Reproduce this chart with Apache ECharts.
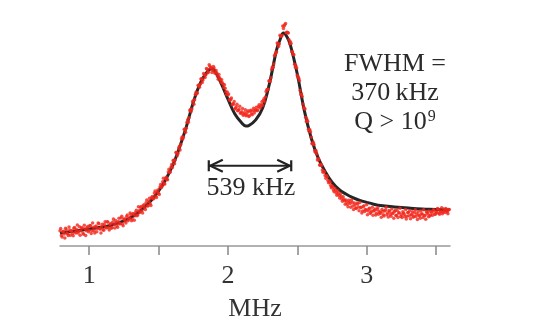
<!DOCTYPE html>
<html>
<head>
<meta charset="utf-8">
<script src="https://cdn.jsdelivr.net/npm/echarts@6.0.0/dist/echarts.min.js"></script>
<style>
  html, body { margin: 0; padding: 0; background: #fff; }
  #main { width: 545px; height: 327px; }
</style>
</head>
<body>
<div id="main"></div>
<script>
// measured trace: sweep starts at 0.79 MHz, one reading every 10 kHz
var sweepStart = 0.79;
var sweepStep = 0.01;
var sweepY = [
  .067,.046,.063,.053,.078,.058,.047,.071,.065,.055,.078,.062,.073,.057,.085,.068,.080,.052,.076,.067,.086,
  .070,.090,.067,.083,.057,.088,.078,.099,.075,.085,.072,.095,.083,.107,.081,.095,.079,.106,.095,.113,
  .090,.108,.099,.124,.097,.120,.111,.131,.112,.125,.138,.120,.141,.134,.158,.137,.156,.170,.156,.178,
  .169,.191,.177,.198,.187,.213,.210,.234,.220,.239,.233,.261,.259,.284,.274,.298,.295,.327,.326,.350,
  .347,.379,.381,.414,.409,.440,.449,.482,.482,.515,.521,.559,.567,.604,.606,.643,.647,.680,.677,.709,
  .716,.740,.734,.758,.757,.782,.770,.795,.790,.778,.788,.765,.766,.738,.745,.725,.722,.701,.698,.670,
  .668,.647,.649,.625,.627,.606,.616,.598,.605,.587,.594,.578,.590,.576,.592,.573,.596,.585,.598,.588,.603,.599,.617,.612,.625,
  .623,.651,.659,.691,.694,.731,.744,.791,.805,.847,.859,.895,.894,.928,.931,.962,.979,.944,.945,.913,
  .904,.859,.849,.804,.796,.755,.742,.688,.673,.628,.611,.570,.559,.517,.514,.481,.451,.449,.415,.407,
  .387,.358,.362,.336,.331,.312,.311,.290,.288,.268,.266,.248,.256,.235,.244,.225,.231,.208,.218,.200,
  .204,.185,.202,.188,.203,.177,.190,.168,.190,.173,.193,.171,.155,.178,.162,.182,.155,.167,.148,.172,
  .155,.164,.145,.169,.154,.145,.162,.138,.155,.171,.146,.157,.139,.164,.146,.153,.135,.157,.146,.167,
  .138,.152,.141,.161,.132,.148,.156,.137,.151,.132,.160,.142,.151,.133,.155,.142,.160,.136,.152,.143,
  .155,.137,.149,.160,.142,.152,.166,.145,.155,.169,.149,.158,.166,.150,.161
];
// second pass of the sweep, shifted by 5 kHz
var sweep2Start = 0.795;
var sweepY2 = [
  .077,.040,.065,.035,.072,.053,.084,.048,.067,.045,.082,.057,.093,.065,.048,.081,.058,.092,.047,.081,.063,
  .091,.055,.102,.069,.085,.063,.102,.076,.058,.096,.070,.107,.080,.106,.071,.100,.082,.119,.080,.103,
  .083,.123,.098,.132,.090,.119,.102,.137,.118,.146,.112,.144,.114,.149,.134,.174,.148,.175,.146,.182,
  .161,.203,.178,.211,.179,.219,.209,.243,.215,.248,.228,.272,.263,.300,.274,.304,.293,.340,.327,.361,
  .378,.364,.414,.399,.434,.425,.475,.475,.517,.503,.548,.548,.600,.595,.638,.627,.670,.674,.711,.702,
  .739,.723,.763,.746,.785,.767,.802,.787,.768,.794,.765,.777,.752,.759,.737,.736,.716,.713,.683,.681,
  .673,.645,.655,.629,.639,.610,.627,.600,.618,.588,.608,.583,.603,.581,.598,.576,.601,.581,.609,.598,.614,.602,.625,.615,.638,
  .644,.638,.684,.692,.730,.728,.781,.790,.842,.854,.898,.883,.932,.929,.974,.973,.984,.946,.942,.895,
  .896,.858,.846,.792,.788,.748,.732,.670,.662,.612,.606,.551,.551,.508,.506,.454,.459,.421,.422,.380,
  .382,.357,.356,.326,.327,.300,.306,.280,.282,.258,.262,.240,.247,.225,.235,.212,.220,.198,.207,.185,
  .195,.174,.195,.172,.194,.161,.181,.166,.186,.156,.170,.146,.174,.153,.159,.138,.164,.144,.155,.136,
  .158,.137,.162,.141,.148,.127,.154,.133,.159,.138,.128,.153,.132,.144,.123,.157,.136,.126,.147,.131,
  .126,.146,.131,.119,.148,.134,.121,.141,.127,.148,.130,.117,.137,.123,.142,.126,.134,.118,.147,.129,
  .133,.151,.136,.158,.140,.148,.163,.141,.153,.143,.164,.148,.156,.143,.161
];

// double lorentzian fit
var fitX = [0.79,0.85,0.90,0.95,1.00,1.05,1.10,1.15,1.20,1.25,1.30,1.35,1.40,1.45,1.50,1.55,1.60,1.65,1.70,1.75,1.80,1.85,1.88,1.90,1.95,2.00,2.05,2.10,2.13,2.15,2.20,2.25,2.30,2.35,2.375,2.40,2.425,2.45,2.50,2.55,2.60,2.65,2.70,2.75,2.80,2.85,2.90,2.95,3.00,3.05,3.10,3.20,3.30,3.40,3.50,3.595];
var fitY = [.057,.062,.066,.071,.075,.080,.084,.091,.100,.111,.126,.146,.173,.204,.243,.292,.354,.434,.527,.635,.720,.770,.784,.779,.721,.650,.584,.544,.531,.533,.558,.611,.721,.867,.912,.942,.926,.889,.760,.600,.478,.390,.330,.282,.250,.230,.214,.202,.193,.185,.179,.173,.168,.164,.162,.159];

var tickValues = [1, 1.5, 2, 2.5, 3, 3.5];
var labelValues = [1, 2, 3];

// splitting marker
var splitFrom = 1.862;
var splitTo = 2.456;
var splitLevel = 0.355;

var serif = '"Liberation Serif", "DejaVu Serif", serif';

var sweep = [];
for (var i = 0; i < sweepY.length; i++) {
  sweep.push([sweepStart + i * sweepStep, sweepY[i]]);
}
for (var k = 0; k < sweepY2.length; k++) {
  sweep.push([sweep2Start + k * sweepStep, sweepY2[k]]);
}
var fit = [];
for (var j = 0; j < fitX.length; j++) {
  fit.push([fitX[j], fitY[j]]);
}

var myChart = echarts.init(document.getElementById('main'), null, {renderer: 'canvas'});

var option = {
  animation: false,
  grid: {left: 60, right: 95, top: 20, bottom: 81},
  xAxis: {
    type: 'value',
    min: 0.79,
    max: 3.6,
    name: 'MHz',
    nameLocation: 'middle',
    nameGap: 50,
    nameTextStyle: {fontFamily: serif, fontSize: 26, color: '#333'},
    axisLine: {show: true, lineStyle: {color: '#999', width: 1.5}},
    axisTick: {show: true, customValues: tickValues, length: 9, lineStyle: {color: '#888', width: 1.5}},
    axisLabel: {customValues: labelValues, margin: 17, fontFamily: serif, fontSize: 26, color: '#333'},
    splitLine: {show: false}
  },
  yAxis: {
    type: 'value',
    min: 0,
    max: 1,
    show: false
  },
  series: [
    {
      name: 'fit',
      type: 'line',
      data: fit,
      smooth: 0.4,
      symbol: 'none',
      z: 2,
      lineStyle: {color: '#262626', width: 3}
    },
    {
      name: 'data',
      type: 'scatter',
      data: sweep,
      symbol: 'circle',
      symbolSize: 3.5,
      z: 3,
      itemStyle: {color: '#f2261a'}
    }
  ]
};
myChart.setOption(option);

// double arrow for the splitting, placed through the axes
var p1 = myChart.convertToPixel({gridIndex: 0}, [splitFrom, splitLevel]);
var p2 = myChart.convertToPixel({gridIndex: 0}, [splitTo, splitLevel]);
var arrowStyle = {stroke: '#222', lineWidth: 2.2, fill: null};
var textStyle = {fontFamily: serif, fontSize: 26, fill: '#2b2b2b', align: 'center', verticalAlign: 'middle'};

myChart.setOption({
  graphic: [
    {type: 'text', id: 'fwhm', z: 10, x: 395, y: 64, style: Object.assign({text: 'FWHM ='}, textStyle)},
    {type: 'text', id: 'width', z: 10, x: 395, y: 93, style: Object.assign({text: '370\u2009kHz'}, textStyle)},
    {
      type: 'text', id: 'q', z: 10, x: 395, y: 122,
      style: {
        text: '{a|Q > 10}{s|9}',
        align: 'center', verticalAlign: 'middle',
        rich: {
          a: {fontFamily: serif, fontSize: 26, fill: '#2b2b2b', lineHeight: 28},
          s: {fontFamily: serif, fontSize: 16, fill: '#2b2b2b', lineHeight: 28, verticalAlign: 'top', padding: [1, 0, 0, 1]}
        }
      }
    },
    {type: 'text', id: 'split', z: 10, x: 251, y: 188, style: Object.assign({text: '539 kHz'}, textStyle)},
    {type: 'line', id: 'shaft', z: 10, shape: {x1: p1[0], y1: p1[1], x2: p2[0], y2: p2[1]}, style: arrowStyle},
    {type: 'line', id: 'barL', z: 10, shape: {x1: p1[0], y1: p1[1] - 5.5, x2: p1[0], y2: p1[1] + 5.5}, style: arrowStyle},
    {type: 'line', id: 'barR', z: 10, shape: {x1: p2[0], y1: p2[1] - 5.5, x2: p2[0], y2: p2[1] + 5.5}, style: arrowStyle},
    {type: 'polyline', id: 'headL', z: 10, shape: {points: [[p1[0] + 14, p1[1] - 6], [p1[0] + 1.5, p1[1]], [p1[0] + 14, p1[1] + 6]]}, style: arrowStyle},
    {type: 'polyline', id: 'headR', z: 10, shape: {points: [[p2[0] - 14, p2[1] - 6], [p2[0] - 1.5, p2[1]], [p2[0] - 14, p2[1] + 6]]}, style: arrowStyle}
  ]
});
</script>
</body>
</html>
